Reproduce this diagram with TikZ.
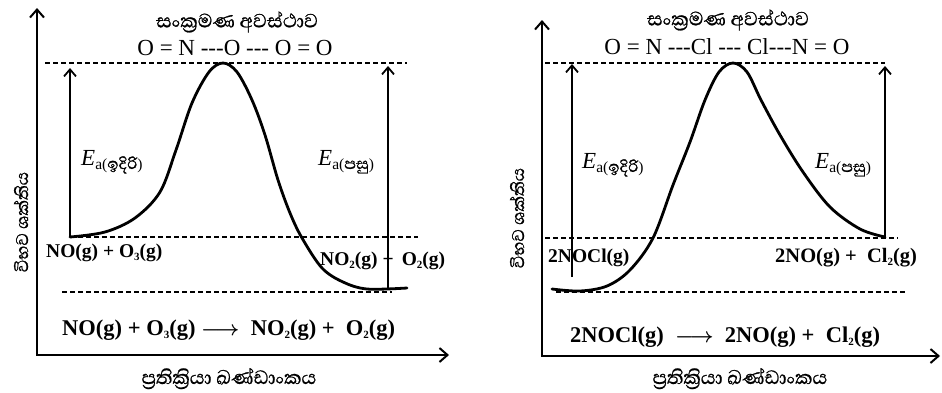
\documentclass[tikz,border=0pt]{standalone}
\usepackage{fontspec}
\setmainfont{Liberation Serif}
\newfontfamily\sinhfont[Script=Sinhala, FakeBold=0.8]{Abhaya Libre}
\usetikzlibrary{arrows.meta}
\tikzset{
  axis/.style={line width=2.2pt, {Straight Barb[length=8pt,width=14pt,line width=2pt]}-{Straight Barb[length=8pt,width=14pt,line width=2pt]}},
  eaarrow/.style={line width=1.8pt, -{Straight Barb[length=7pt,width=12pt,line width=1.8pt]}},
  level/.style={line width=1.8pt, dash pattern=on 5pt off 3pt},
  curve/.style={line width=2.8pt, line cap=round},
  chem/.style={font=\fontsize{19.5}{19.5}\selectfont\bfseries, inner sep=0pt, anchor=base west},
  eqn/.style={font=\fontsize{22.5}{22.5}\selectfont\bfseries, inner sep=0pt, anchor=base west},
  titletext/.style={font=\fontsize{24.5}{24.5}\selectfont\sinhfont, inner sep=0pt},
  formula/.style={font=\fontsize{23}{23}\selectfont, inner sep=0pt},
  ealabel/.style={inner sep=0pt, anchor=base west},
  axlabel/.style={font=\fontsize{24.5}{24.5}\selectfont\sinhfont, inner sep=0pt, anchor=base},
  yaxlabel/.style={font=\fontsize{22}{22}\selectfont\sinhfont, inner sep=0pt, rotate=90},
}
\newcommand\EaLbl[1]{{\fontsize{23}{23}\selectfont\textit{E}}\raisebox{-4pt}{\fontsize{15.5}{15.5}\selectfont a({\sinhfont\fontsize{20}{20}\selectfont #1})}}
\newcommand\chsb[1]{\raisebox{-3.5pt}{\fontsize{11}{11}\selectfont #1}}
\newcommand\dsh{-{}-{}-}
\begin{document}
\begin{tikzpicture}[x=1pt,y=-1pt]
\useasboundingbox (0,0) rectangle (942,392);
% ---------------- left panel ----------------
\coordinate (LY) at (37,8);
\coordinate (LO) at (37,355);
\coordinate (LX) at (449,355);
\draw[axis] (LY) -- (LO) -- (LX);
\coordinate (LT1) at (45,63);   \coordinate (LT2) at (407,63);
\coordinate (LR1) at (70,237);  \coordinate (LR2) at (418,237);
\coordinate (LP1) at (62,292);  \coordinate (LP2) at (392,292);
\draw[level] (LT1) -- (LT2);
\draw[level] (LR1) -- (LR2);
\draw[level] (LP1) -- (LP2);
\coordinate (LFa) at (70,237);  \coordinate (LFb) at (70,68);
\coordinate (LBa) at (388,288); \coordinate (LBb) at (388,66);
\draw[eaarrow] (LFa) -- (LFb);
\draw[eaarrow] (LBa) -- (LBb);
\draw[curve] plot[smooth, tension=0.55] coordinates {(70,237) (105,232) (135,218) (160,192) (176,150) (192,103) (209,72) (223,63) (237,72) (252,100) (265,135) (278,180) (290,213) (302,238) (322,268) (343,282) (367,289) (407,288)};
\node[titletext] (LTitle) at (237,22) {සංක්^^^^200dරමණ අවස්ථාව};
\node[formula] (LForm) at (235,48) {O = N \dsh O \dsh{} O = O};
\node[ealabel] (LEf) at (81,165) {\EaLbl{ඉදිරි}};
\node[ealabel] (LEb) at (318,165) {\EaLbl{පසු}};
\node[chem] (LReact) at (46,257) {NO(g) + O\chsb{3}(g)};
\node[chem] (LProd) at (320,265) {NO\chsb{2}(g) + \,O\chsb{2}(g)};
\node[eqn] (LEq) at (62,335) {NO(g) + O\chsb{3}(g) {\boldmath$\longrightarrow$}\ \ NO\chsb{2}(g) + \ O\chsb{2}(g)};
\node[yaxlabel] (LYl) at (21,222) {විභව ශක්තිය};
\node[axlabel] (LXl) at (229,384) {ප්^^^^200dරතික්^^^^200dරියා ඛණ්ඩාංකය};
% ---------------- right panel ----------------
\coordinate (RY) at (542,20);
\coordinate (RO) at (542,356);
\coordinate (RX) at (940,356);
\draw[axis] (RY) -- (RO) -- (RX);
\coordinate (RT1) at (545,63);  \coordinate (RT2) at (885,63);
\coordinate (RR1) at (545,238); \coordinate (RR2) at (898,238);
\coordinate (RP1) at (556,292); \coordinate (RP2) at (907,292);
\draw[level] (RT1) -- (RT2);
\draw[level] (RR1) -- (RR2);
\draw[level] (RP1) -- (RP2);
\coordinate (RFa) at (572,277); \coordinate (RFb) at (572,64);
\coordinate (RBa) at (885,237); \coordinate (RBb) at (885,66);
\draw[eaarrow] (RFa) -- (RFb);
\draw[eaarrow] (RBa) -- (RBb);
\node[chem] (RReact) at (548,262) {2NOCl(g)};
\draw[curve] plot[smooth, tension=0.55] coordinates {(552,289) (580,291) (607,286) (630,270) (653,238) (673,185) (690,142) (705,100) (719,72) (733,63) (747,72) (761,100) (780,135) (803,172) (830,207) (860,229) (885,237)};
\node[titletext] (RTitle) at (728,20) {සංක්^^^^200dරමණ අවස්ථාව};
\node[formula] (RForm) at (727,47) {O = N \dsh Cl \dsh{} Cl\dsh N = O};
\node[ealabel] (REf) at (582,168) {\EaLbl{ඉදිරි}};
\node[ealabel] (REb) at (815,168) {\EaLbl{පසු}};
\node[chem, font=\fontsize{20.5}{20.5}\selectfont\bfseries] (RProd) at (775,262) {2NO(g) + \ Cl\chsb{2}(g)};
\node[eqn] (REq) at (570,342) {2NOCl(g) \ {\boldmath$\longrightarrow$}\ \ 2NO(g) + \ Cl\chsb{2}(g)};
\node[yaxlabel] (RYl) at (517,218) {විභව ශක්තිය};
\node[axlabel] (RXl) at (740,384) {ප්^^^^200dරතික්^^^^200dරියා ඛණ්ඩාංකය};
\end{tikzpicture}
\end{document}
